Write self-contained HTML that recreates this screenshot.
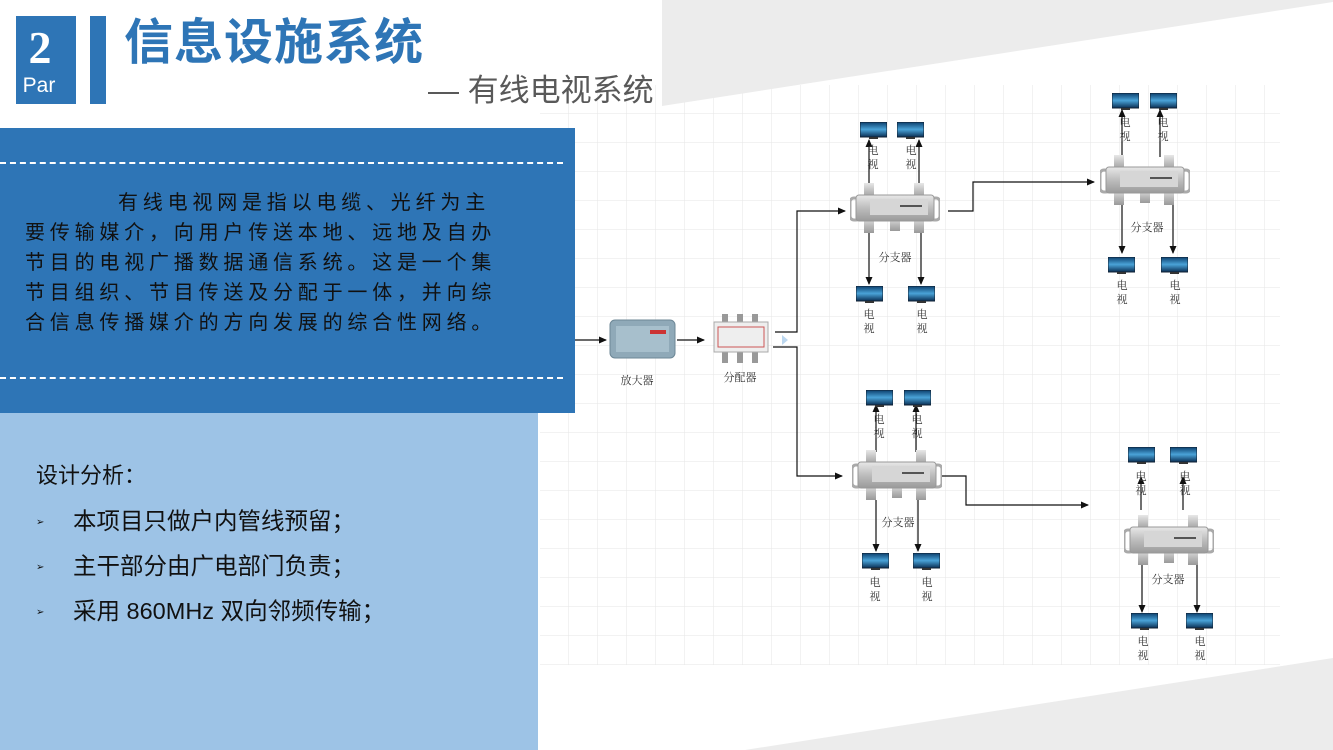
<!DOCTYPE html>
<html><head><meta charset="utf-8"><style>
body{margin:0;width:1333px;height:750px;position:relative;overflow:hidden;background:#fff;font-family:"Liberation Sans","Noto Sans CJK SC",sans-serif}
.abs{position:absolute}
</style></head><body>
<svg class="abs" style="left:0;top:0" width="1333" height="750">
<defs>
<pattern id="g" width="29" height="29" patternUnits="userSpaceOnUse" x="540" y="85">
<path d="M29 0V29H0" fill="none" stroke="#e6e6e6" stroke-width="1"/></pattern>
<marker id="a" markerWidth="8" markerHeight="8" refX="7" refY="4" orient="auto" markerUnits="userSpaceOnUse"><path d="M0,0.5L8,4L0,7.5z" fill="#111"/></marker>
<linearGradient id="tvg" x1="0" y1="0" x2="0" y2="1"><stop offset="0" stop-color="#0a3d6b"/><stop offset=".5" stop-color="#4aa3d8"/><stop offset="1" stop-color="#0a2f55"/></linearGradient>
<linearGradient id="mg" x1="0" y1="0" x2="0" y2="1"><stop offset="0" stop-color="#e8e8e8"/><stop offset=".5" stop-color="#bdbdbd"/><stop offset="1" stop-color="#9a9a9a"/></linearGradient>
<symbol id="tv" viewBox="0 0 27 17"><rect x="0" y="0" width="27" height="15" fill="url(#tvg)" stroke="#123" stroke-width="1"/><rect x="9" y="15" width="9" height="2" fill="#333"/></symbol>
<symbol id="sp" viewBox="0 0 90 50"><rect x="0" y="15" width="10" height="22" rx="4" fill="none" stroke="#aaa" stroke-width="3"/><rect x="80" y="15" width="10" height="22" rx="4" fill="none" stroke="#aaa" stroke-width="3"/><rect x="14" y="0" width="10" height="16" fill="url(#mg)"/><rect x="64" y="0" width="10" height="16" fill="url(#mg)"/><rect x="14" y="34" width="10" height="16" fill="url(#mg)"/><rect x="40" y="34" width="10" height="14" fill="url(#mg)"/><rect x="64" y="34" width="10" height="16" fill="url(#mg)"/><rect x="6" y="12" width="78" height="26" rx="3" fill="url(#mg)" stroke="#999"/><rect x="20" y="16" width="58" height="16" fill="#d6d6d6"/><rect x="50" y="22" width="22" height="2" fill="#555"/></symbol>
</defs>
<rect x="540" y="85" width="740" height="580" fill="url(#g)"/>
<polygon points="662,0 1333,0 1333,2 662,106" fill="#ececec"/>
<polygon points="745,750 1333,658 1333,750" fill="#ececec"/>
<rect x="610" y="320" width="65" height="38" rx="5" fill="#8fa9b8" stroke="#6d8796"/>
<rect x="616" y="326" width="53" height="26" fill="#a7bfcc"/>
<rect x="650" y="330" width="16" height="4" fill="#c33"/>
<rect x="722" y="314" width="6" height="10" fill="#999"/><rect x="737" y="314" width="6" height="10" fill="#999"/><rect x="752" y="314" width="6" height="10" fill="#999"/>
<rect x="722" y="351" width="6" height="12" fill="#999"/><rect x="737" y="351" width="6" height="12" fill="#999"/><rect x="752" y="351" width="6" height="12" fill="#999"/>
<rect x="714" y="322" width="54" height="30" fill="#eee" stroke="#aaa"/>
<rect x="718" y="327" width="46" height="20" fill="none" stroke="#c55"/>
<path d="M782,335l6,5l-6,5z" fill="#bcd7ef"/>
<g stroke="#111" stroke-width="1.2" fill="none">
<path d="M575,340H606" marker-end="url(#a)"/>
<path d="M677,340H704" marker-end="url(#a)"/>
<path d="M775,332H797V211H845" marker-end="url(#a)"/>
<path d="M773,347H797V476H842" marker-end="url(#a)"/>
<path d="M948,211H973V182H1094" marker-end="url(#a)"/>
<path d="M942,476H966V505H1088" marker-end="url(#a)"/>
<path d="M869,185V140" marker-end="url(#a)"/><path d="M919,185V140" marker-end="url(#a)"/>
<path d="M869,232V284" marker-end="url(#a)"/><path d="M921,232V284" marker-end="url(#a)"/>
<path d="M1122,157V110" marker-end="url(#a)"/><path d="M1160,157V110" marker-end="url(#a)"/>
<path d="M1122,205V253" marker-end="url(#a)"/><path d="M1173,205V253" marker-end="url(#a)"/>
<path d="M876,452V405" marker-end="url(#a)"/><path d="M916,452V405" marker-end="url(#a)"/>
<path d="M876,500V551" marker-end="url(#a)"/><path d="M918,500V551" marker-end="url(#a)"/>
<path d="M1141,510V477" marker-end="url(#a)"/><path d="M1183,510V477" marker-end="url(#a)"/>
<path d="M1142,563V612" marker-end="url(#a)"/><path d="M1197,563V612" marker-end="url(#a)"/>
</g>
<use href="#sp" x="850" y="183" width="90" height="50"/>
<use href="#sp" x="1100" y="155" width="90" height="50"/>
<use href="#sp" x="852" y="450" width="90" height="50"/>
<use href="#sp" x="1124" y="515" width="90" height="50"/>
<g>
<use href="#tv" x="860" y="122" width="27" height="17"/><use href="#tv" x="897" y="122" width="27" height="17"/>
<use href="#tv" x="856" y="286" width="27" height="17"/><use href="#tv" x="908" y="286" width="27" height="17"/>
<use href="#tv" x="1112" y="93" width="27" height="17"/><use href="#tv" x="1150" y="93" width="27" height="17"/>
<use href="#tv" x="1108" y="257" width="27" height="17"/><use href="#tv" x="1161" y="257" width="27" height="17"/>
<use href="#tv" x="866" y="390" width="27" height="17"/><use href="#tv" x="904" y="390" width="27" height="17"/>
<use href="#tv" x="862" y="553" width="27" height="17"/><use href="#tv" x="913" y="553" width="27" height="17"/>
<use href="#tv" x="1128" y="447" width="27" height="17"/><use href="#tv" x="1170" y="447" width="27" height="17"/>
<use href="#tv" x="1131" y="613" width="27" height="17"/><use href="#tv" x="1186" y="613" width="27" height="17"/>
</g>
<g font-family="Liberation Serif,Noto Serif CJK SC,serif" font-size="11" fill="#333" text-anchor="middle">
<text x="637" y="384">放大器</text><text x="740" y="381">分配器</text>
<text x="895" y="261">分支器</text><text x="1147" y="231">分支器</text>
<text x="898" y="526">分支器</text><text x="1168" y="583">分支器</text>
<g>
<text x="873" y="154">电</text><text x="873" y="168">视</text><text x="911" y="154">电</text><text x="911" y="168">视</text>
<text x="869" y="318">电</text><text x="869" y="332">视</text><text x="922" y="318">电</text><text x="922" y="332">视</text>
<text x="1125" y="126">电</text><text x="1125" y="140">视</text><text x="1163" y="126">电</text><text x="1163" y="140">视</text>
<text x="1122" y="289">电</text><text x="1122" y="303">视</text><text x="1175" y="289">电</text><text x="1175" y="303">视</text>
<text x="879" y="423">电</text><text x="879" y="437">视</text><text x="917" y="423">电</text><text x="917" y="437">视</text>
<text x="875" y="586">电</text><text x="875" y="600">视</text><text x="927" y="586">电</text><text x="927" y="600">视</text>
<text x="1141" y="480">电</text><text x="1141" y="494">视</text><text x="1185" y="480">电</text><text x="1185" y="494">视</text>
<text x="1143" y="645">电</text><text x="1143" y="659">视</text><text x="1200" y="645">电</text><text x="1200" y="659">视</text>
</g></g>
</svg>

<div class="abs" style="left:16px;top:16px;width:60px;height:88px;background:#2e75b6"></div>
<div class="abs" style="left:16px;top:20px;width:48px;text-align:center;color:#fff;font-family:'Liberation Serif',serif;font-weight:bold;font-size:46px;line-height:56px">2</div>
<div class="abs" style="left:16px;top:74px;width:46px;text-align:center;color:#fff;font-size:21px;line-height:24px">Par</div>
<div class="abs" style="left:90px;top:16px;width:16px;height:88px;background:#2e75b6"></div>
<div class="abs" style="left:124px;top:12px;color:#2e75b6;font-weight:bold;font-size:49px;line-height:62px;letter-spacing:1px">信息设施系统</div>
<div class="abs" style="left:428px;top:72px;color:#595959;font-size:31px;line-height:38px">— 有线电视系统</div>

<div class="abs" style="left:0;top:128px;width:575px;height:285px;background:#2e75b6"></div>
<div class="abs" style="left:0;top:162px;width:563px;border-top:2px dashed #fff"></div>
<div class="abs" style="left:0;top:377px;width:563px;border-top:2px dashed #fff"></div>
<div class="abs" style="left:25px;top:188px;width:480px;color:#111;font-size:20px;line-height:30px;letter-spacing:4.8px">
<div style="padding-left:93px;white-space:nowrap">有线电视网是指以电缆、光纤为主</div>
<div style="white-space:nowrap">要传输媒介，向用户传送本地、远地及自办</div>
<div style="white-space:nowrap">节目的电视广播数据通信系统。这是一个集</div>
<div style="white-space:nowrap">节目组织、节目传送及分配于一体，并向综</div>
<div style="white-space:nowrap">合信息传播媒介的方向发展的综合性网络。</div>
</div>

<div class="abs" style="left:0;top:413px;width:538px;height:337px;background:#9dc3e6"></div>
<div class="abs" style="left:36px;top:461px;font-size:22px;color:#111;line-height:30px">设计分析：</div>
<div class="abs" style="left:36px;top:505px;font-size:23.5px;color:#111;line-height:32px">
<div style="height:45px;white-space:nowrap"><span style="font-size:10px;display:inline-block;width:37px;vertical-align:middle">➢</span>本项目只做户内管线预留；</div>
<div style="height:45px;white-space:nowrap"><span style="font-size:10px;display:inline-block;width:37px;vertical-align:middle">➢</span>主干部分由广电部门负责；</div>
<div style="height:45px;white-space:nowrap"><span style="font-size:10px;display:inline-block;width:37px;vertical-align:middle">➢</span>采用 860MHz 双向邻频传输；</div>
</div>
</body></html>
